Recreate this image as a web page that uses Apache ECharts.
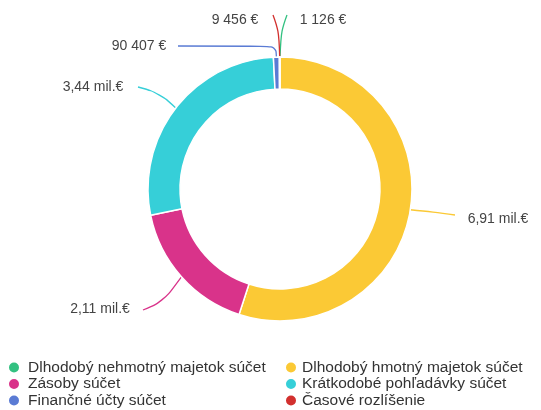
<!DOCTYPE html>
<html>
<head>
<meta charset="utf-8">
<style>
  html, body { margin: 0; padding: 0; background: #fff; }
  #chart { width: 541px; height: 410px; }
</style>
<script src="https://cdn.jsdelivr.net/npm/echarts@6/dist/echarts.min.js"></script>
</head>
<body>
<div id="chart"></div>
<script>
// data
const categories = [
  "Dlhodobý nehmotný majetok súčet",
  "Dlhodobý hmotný majetok súčet",
  "Zásoby súčet",
  "Krátkodobé pohľadávky súčet",
  "Finančné účty súčet",
  "Časové rozlíšenie"
];
const values = [1126, 6910000, 2110000, 3440000, 90407, 9456];
const colors = ["#33c181", "#fbc935", "#d9338a", "#36cfd8", "#5a7bd4", "#d2302e"];

// label text centre and the bend/end of its leader line
const labelPos = [[323, 20], [498, 219], [100, 309], [93, 87], [139, 46], [235, 20]];
const lineBend = [[281, 31], [433, 212], [163, 302], [160, 93], [276, 46], [279, 31]];
const lineEnd = [[287, 15], [455, 215], [143, 310], [138, 87], [178, 46], [273, 15]];

function fmt(v) {
  if (v >= 1e6) return (v / 1e6).toFixed(2).replace(".", ",") + " mil.€";
  return String(v).replace(/\B(?=(\d{3})+(?!\d))/g, " ") + " €";
}

const chart = echarts.init(document.getElementById("chart"));
const font = "Arial, 'Liberation Sans', sans-serif";

function legendBox(left, pad, names) {
  return {
    orient: "vertical",
    left: left,
    top: 359.5,
    padding: 0,
    icon: "circle",
    itemWidth: 12,
    itemHeight: 12,
    itemGap: 0.5,
    textStyle: { fontSize: 15.5, color: "#333", fontFamily: font, lineHeight: 15, padding: [0, 0, 0, pad] },
    data: names
  };
}

chart.setOption({
  animation: false,
  color: colors,
  textStyle: { fontFamily: font },
  legend: [
    legendBox(7, 3, [categories[0], categories[2], categories[4]]),
    legendBox(284, 0, [categories[1], categories[3], categories[5]])
  ],
  series: [
    {
      type: "pie",
      center: [280, 189],
      radius: [100, 132],
      startAngle: 90,
      clockwise: true,
      avoidLabelOverlap: false,
      itemStyle: { borderColor: "#fff", borderWidth: 1.5 },
      label: {
        color: "#444",
        fontSize: 14,
        fontFamily: font,
        formatter: p => fmt(p.value)
      },
      labelLine: { smooth: 0.4, lineStyle: { width: 1.3 } },
      labelLayout: p => {
        const i = p.dataIndex;
        return {
          x: labelPos[i][0],
          y: labelPos[i][1],
          align: "center",
          verticalAlign: "middle",
          labelLinePoints: [p.labelLinePoints[0], lineBend[i], lineEnd[i]]
        };
      },
      data: categories.map((c, i) => ({ name: c, value: values[i] }))
    }
  ]
});
</script>
</body>
</html>
